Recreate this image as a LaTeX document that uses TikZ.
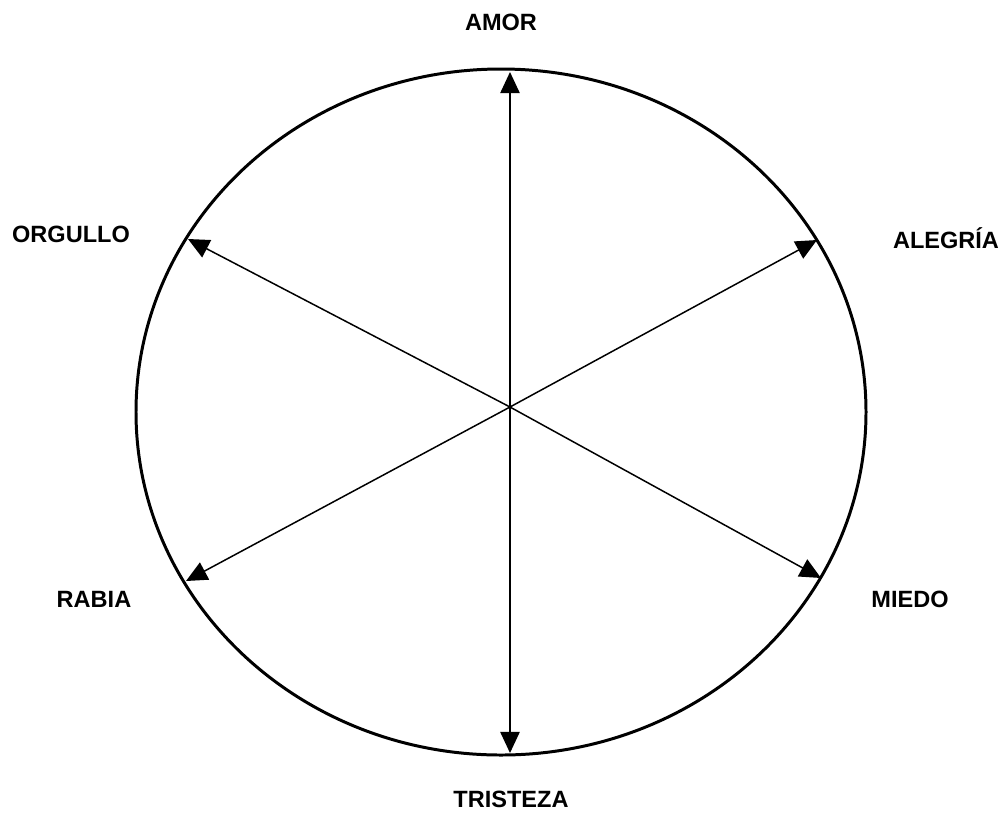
\documentclass[tikz,border=0pt]{standalone}
\usepackage{fontspec}
\setmainfont{Liberation Sans}
\usetikzlibrary{arrows.meta}

\begin{document}
\begin{tikzpicture}[x=0.02cm, y=-0.02cm,
  rim/.style={line width=1.7pt},
  ray/.style={-{Triangle[length=12pt,width=11pt]}, line width=0.85pt},
  lab/.style={anchor=base, font=\fontsize{13.4}{16}\selectfont\bfseries}]
  \useasboundingbox (0,0) rectangle (1007,816);

  % --- outer ellipse ---
  \draw[rim] (501,412) ellipse (365 and 343);

  % --- centre and arrow tips ---
  \coordinate (c)   at (510,407);
  \coordinate (up)  at (510,72);
  \coordinate (dn)  at (510,753);
  \coordinate (ur)  at (817,240);
  \coordinate (ul)  at (188,239);
  \coordinate (lr)  at (821,578);
  \coordinate (ll)  at (186,581);

  \draw[ray] (c) -- (up);
  \draw[ray] (c) -- (dn);
  \draw[ray] (c) -- (ur);
  \draw[ray] (c) -- (ul);
  \draw[ray] (c) -- (lr);
  \draw[ray] (c) -- (ll);

  % --- labels ---
  \node[lab] (amor)     at (501,30)  {AMOR};
  \node[lab] (tristeza) at (511,807) {TRISTEZA};
  \node[lab] (orgullo)  at (71,242)  {ORGULLO};
  \node[lab] (alegria)  at (946,248) {ALEGRÍA};
  \node[lab] (rabia)    at (94,607)  {RABIA};
  \node[lab] (miedo)    at (910,607) {MIEDO};
\end{tikzpicture}
\end{document}
